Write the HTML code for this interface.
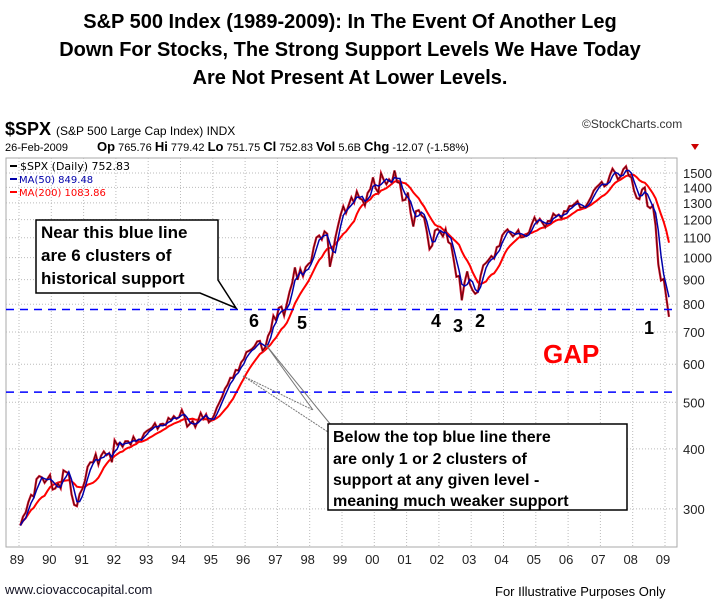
<!DOCTYPE html>
<html><head><meta charset="utf-8"><style>
body{margin:0;background:#fff;width:720px;height:608px;overflow:hidden;font-family:"Liberation Sans",Arial,sans-serif}
svg{position:absolute;left:0;top:0}
</style></head><body>
<svg width="720" height="608" id="c">
<g font-weight="bold" font-size="20" text-anchor="middle" fill="#000">
<text x="350" y="28">S&amp;P 500 Index (1989-2009):   In The Event Of Another Leg</text>
<text x="350" y="56">Down For Stocks, The Strong Support Levels We Have Today</text>
<text x="350" y="84">Are Not Present At Lower Levels.</text>
</g>
<g>
<text x="5" y="135" font-size="18" font-weight="bold">$SPX <tspan font-size="12" font-weight="normal">(S&amp;P 500 Large Cap Index) INDX</tspan></text>
<text x="582" y="128" font-size="12" fill="#333">©StockCharts.com</text>
<text x="5" y="151" font-size="11">26-Feb-2009</text>
<text x="97" y="151" font-size="11"><tspan font-weight="bold" font-size="13">Op</tspan> 765.76 <tspan font-weight="bold" font-size="13">Hi</tspan> 779.42 <tspan font-weight="bold" font-size="13">Lo</tspan> 751.75 <tspan font-weight="bold" font-size="13">Cl</tspan> 752.83 <tspan font-weight="bold" font-size="13">Vol</tspan> 5.6B <tspan font-weight="bold" font-size="13">Chg</tspan> -12.07 (-1.58%)</text>
<polygon points="691,144 699,144 695,150" fill="#c00"/>
</g>
<rect x="6" y="158" width="671" height="389" fill="none" stroke="#aaa"/>
<g id="grid"></g>
<g id="axes"></g>
<g id="series"></g>
<g font-family="DejaVu Sans,sans-serif" font-size="11">
<line x1="10" y1="166" x2="17" y2="166" stroke="#000" stroke-width="2"/><text x="20" y="170" fill="#000">$SPX (Daily) 752.83</text>
<line x1="10" y1="179" x2="17" y2="179" stroke="#00a" stroke-width="2"/><text x="19" y="183" fill="#00a" font-size="10">MA(50) 849.48</text>
<line x1="10" y1="192" x2="17" y2="192" stroke="#f00" stroke-width="2"/><text x="19" y="196" fill="#f00" font-size="10">MA(200) 1083.86</text>
</g>
<g id="sup"></g>
<g>
<polygon points="36,220 218,220 218,280 236,308 200,293 36,293" fill="#fff" stroke="#000" stroke-width="1.5"/>
<g font-weight="bold" font-size="17"><text x="41" y="238">Near this blue line</text><text x="41" y="261">are 6 clusters of</text><text x="41" y="284">historical support</text></g>
</g>
<g>
<line x1="266" y1="345" x2="331" y2="425" stroke="#777"/>
<line x1="266" y1="345" x2="313" y2="410" stroke="#777"/>
<line x1="243" y1="376" x2="313" y2="410" stroke="#777" stroke-dasharray="2,1"/>
<line x1="243" y1="376" x2="328" y2="432" stroke="#777" stroke-dasharray="2,1"/>
<rect x="328" y="424" width="299" height="86" fill="#fff" stroke="#000" stroke-width="1.5"/>
<g font-weight="bold" font-size="16"><text x="333" y="442">Below the top blue line there</text><text x="333" y="464">are only 1 or 2 clusters of</text><text x="333" y="485">support at any given level -</text><text x="333" y="506">meaning much weaker support</text></g>
</g>
<g font-weight="bold" font-size="18">
<text x="249" y="327">6</text><text x="297" y="329">5</text><text x="431" y="327">4</text><text x="453" y="332">3</text><text x="475" y="327">2</text><text x="644" y="334">1</text>
</g>
<text x="543" y="363" font-size="26" font-weight="bold" fill="#f00">GAP</text>
<text x="5" y="594" font-size="13" fill="#112">www.ciovaccocapital.com</text>
<text x="495" y="596" font-size="13" fill="#000">For Illustrative Purposes Only</text>
</svg>
<script>
const yTicks=[300,400,500,600,700,800,900,1000,1100,1200,1300,1400,1500];
const years=["89","90","91","92","93","94","95","96","97","98","99","00","01","02","03","04","05","06","07","08","09"];
const supportLevels=[780,525];
const startYear=1989;
const prices=[277,289,295,310,321,318,346,351,349,340,346,353,
329,331,339,331,361,358,356,322,306,304,322,330,
343,367,375,375,390,371,387,395,388,392,375,417,
408,412,404,415,415,408,424,414,418,419,431,436,
439,443,452,440,450,451,448,464,459,468,462,466,
482,467,445,451,457,444,458,475,462,472,454,459,
470,487,500,514,533,544,562,562,584,582,605,615,
636,640,645,654,669,671,640,651,687,705,757,740,
786,791,757,801,848,885,954,899,947,915,955,970,
980,1049,1101,1112,1090,1134,1121,957,1017,1099,1164,1229,
1279,1238,1286,1335,1301,1373,1329,1320,1283,1362,1389,1469,
1394,1366,1499,1452,1421,1455,1431,1518,1436,1429,1315,1320,
1366,1240,1160,1249,1256,1224,1211,1134,1041,1060,1139,1148,
1130,1107,1147,1077,1067,990,912,916,815,886,936,880,
856,841,848,917,964,975,990,1008,996,1051,1058,1112,
1131,1145,1126,1107,1121,1141,1102,1104,1115,1130,1174,1212,
1181,1204,1181,1157,1192,1191,1234,1220,1229,1207,1249,1248,
1280,1281,1295,1311,1270,1270,1277,1304,1336,1378,1401,1418,
1438,1407,1421,1482,1531,1503,1455,1474,1527,1549,1481,1468,
1379,1331,1323,1386,1400,1280,1267,1283,1165,969,896,903,
826,753];
const NS="http://www.w3.org/2000/svg";
function y(v){return 173+208.7*Math.log(1500/v);}
function x(t){return 19+(t-startYear)*32.3;}
function mk(tag,attrs,parent){const e=document.createElementNS(NS,tag);for(const k in attrs)e.setAttribute(k,attrs[k]);document.getElementById(parent).appendChild(e);return e;}
yTicks.forEach(v=>{
 const l=mk('line',{x1:6,x2:677,y1:y(v),y2:y(v),stroke:'#bbb','stroke-dasharray':'1,2'},'grid');
 
 
 const t=mk('text',{x:683,y:y(v)+5,'font-size':13,fill:'#222'},'axes');
 t.textContent=v;
 
 
});
years.forEach((s,i)=>{
 const X=x(startYear+i);
 const l=mk('line',{x1:X,x2:X,y1:158,y2:547,stroke:'#bbb','stroke-dasharray':'1,2'},'grid');
 
 
 const t=mk('text',{x:X-2,y:564,'font-size':13,'text-anchor':'middle',fill:'#222'},'axes');
 t.textContent=s;
 
 
});
supportLevels.forEach(v=>{
 const l=mk('line',{x1:6,x2:677,y1:y(v),y2:y(v),stroke:'#00f','stroke-width':1.5,'stroke-dasharray':'8,6'},'sup');
 
 
});
function ma(n){return prices.map((p,i)=>{const s=prices.slice(Math.max(0,i-n+1),i+1);return s.reduce((a,b)=>a+b,0)/s.length;});}
function path(arr,off){return arr.map((v,i)=>(i?'L':'M')+x(startYear+(i+off)/12).toFixed(1)+','+y(v).toFixed(1)).join('');}
const m200=mk('path',{d:path(ma(10),0.5),fill:'none',stroke:'#f00','stroke-width':2},'series');


const pr=mk('path',{d:path(prices,0.5),fill:'none',stroke:'#d0102a','stroke-width':2.2},'series');


const pr2=mk('path',{d:path(prices,0.5),fill:'none',stroke:'#300','stroke-width':0.6},'series');


const m50=mk('path',{d:path(ma(3),0.5),fill:'none',stroke:'#00a','stroke-width':1.5},'series');


</script>
</body></html>
